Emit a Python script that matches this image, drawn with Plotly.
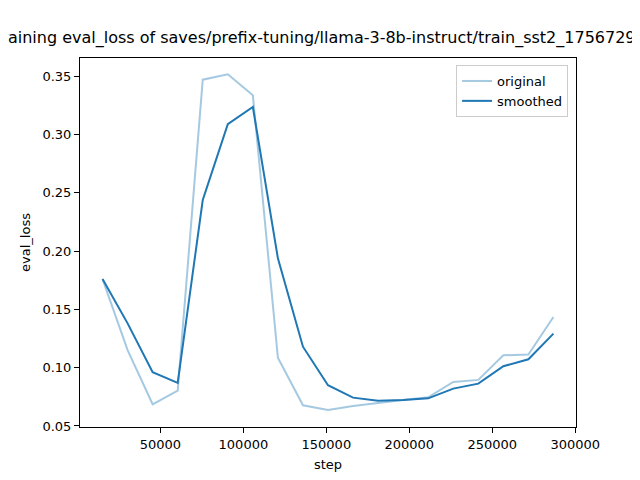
import plotly.graph_objects as go

steps = [15100 * k for k in range(1, 20)]
original = [0.176, 0.115, 0.0686, 0.0803, 0.347, 0.3516, 0.3336, 0.1086, 0.0677, 0.0637,
            0.0672, 0.0700, 0.0723, 0.0746, 0.0877, 0.0895, 0.1106, 0.1112, 0.1435]
smoothed = [0.176, 0.138, 0.0961, 0.0869, 0.2438, 0.3088, 0.3236, 0.1938, 0.118, 0.0849,
            0.0743, 0.0717, 0.0723, 0.0737, 0.0820, 0.0863, 0.1012, 0.1072, 0.1292]
x_ticks = [50000, 100000, 150000, 200000, 250000, 300000]
y_ticks = [0.05, 0.10, 0.15, 0.20, 0.25, 0.30, 0.35]
title_text = "Training eval_loss of saves/prefix-tuning/llama-3-8b-instruct/train_sst2_1756729568"

FONT = "DejaVu Sans"

fig = go.Figure()
fig.add_trace(go.Scatter(x=steps, y=original, mode="lines", name="original",
                         line=dict(color="rgba(31,119,180,0.4)", width=2)))
fig.add_trace(go.Scatter(x=steps, y=smoothed, mode="lines", name="smoothed",
                         line=dict(color="#1f77b4", width=2)))

# The page body adds an 8px offset, so margins are compensated.
fig.update_layout(
    width=640, height=480,
    margin=dict(l=72, r=72, t=50, b=61, autoexpand=False),
    paper_bgcolor="white", plot_bgcolor="white",
    font=dict(family=FONT, size=13, color="black"),
    title=dict(text=title_text, x=322 / 640, xanchor="center", xref="container",
               y=1 - 29 / 480, yanchor="middle", yref="container",
               font=dict(family=FONT, size=16, color="black")),
    legend=dict(x=0.984, y=0.981, xanchor="right", yanchor="top",
                bordercolor="#cccccc", borderwidth=1, bgcolor="rgba(255,255,255,0.8)",
                font=dict(family=FONT, size=13), tracegroupgap=2),
    showlegend=True,
)
fig.update_xaxes(
    range=[1510, 300490], tickvals=x_ticks, ticktext=[str(v) for v in x_ticks],
    showgrid=False, zeroline=False, showline=True, linecolor="black", linewidth=1,
    mirror=True, ticks="outside", ticklen=5, tickcolor="black",
    title=dict(text="step", standoff=9, font=dict(family=FONT, size=13)),
)
fig.update_yaxes(
    range=[0.0491, 0.3656], tickvals=y_ticks, ticktext=[f"{v:.2f}" for v in y_ticks],
    showgrid=False, zeroline=False, showline=True, linecolor="black", linewidth=1,
    mirror=True, ticks="outside", ticklen=5, tickcolor="black",
    title=dict(text="eval_loss", standoff=8, font=dict(family=FONT, size=13)),
)

fig.write_html("out.html")
